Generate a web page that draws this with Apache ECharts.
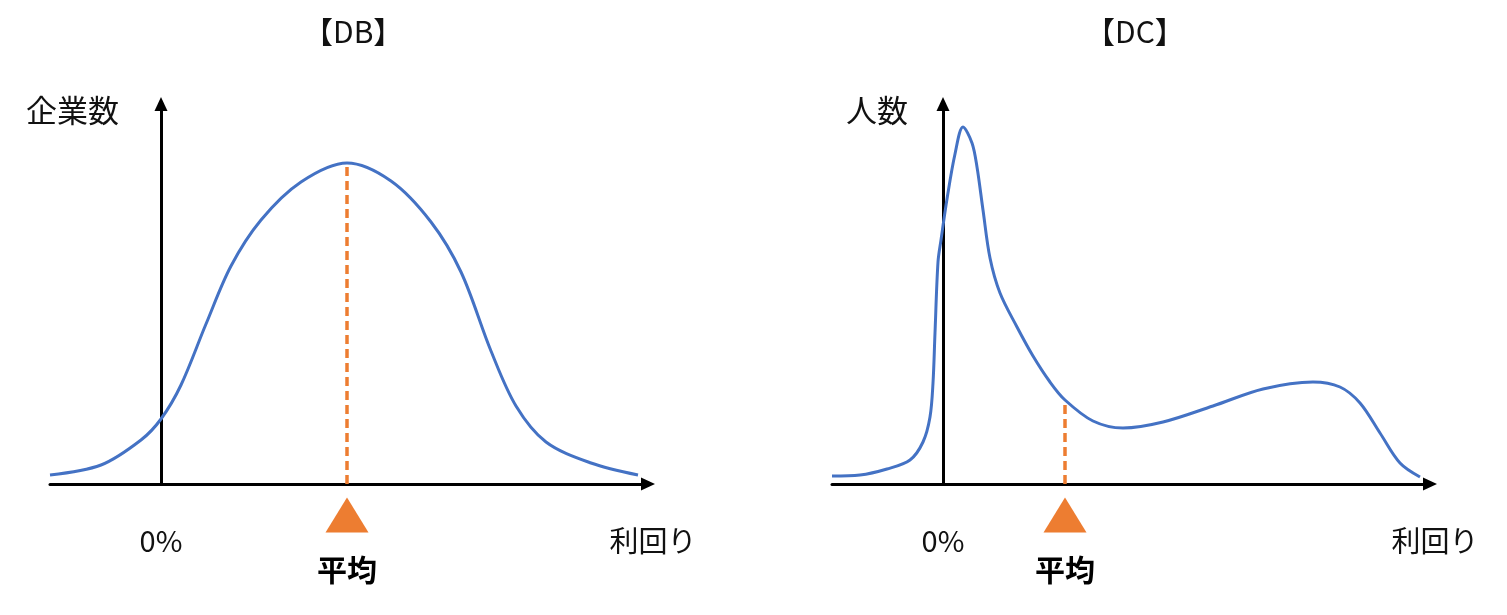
<!DOCTYPE html>
<html><head><meta charset="utf-8">
<script src="https://cdn.jsdelivr.net/npm/echarts@6/dist/echarts.min.js"></script>
<style>html,body{margin:0;padding:0;background:#fff}#c{width:1507px;height:615px}</style>
</head><body><div id="c"></div>
<script>
// ---- data (x: return, 0 = 0%; y: count, arbitrary units) ----
const titles = ['【DB】', '【DC】'];
const yNames = ['企業数', '人数'];
const xTickLabels = ['0%', '利回り'];
const xTickValues = [0, 487];
const meanLabel = '平均';

const dbCurve = [
  [-111, 9], [-60, 19], [-20, 44], [0, 65], [20, 99], [45, 160], [70, 218], [100, 264],
  [140, 302], [186, 321], [230, 303], [270, 262], [300, 212], [330, 133], [355, 78],
  [385, 42], [430, 21], [477, 9]
];
const dcCurve = [
  [-111, 8], [-83, 9], [-56, 15], [-33, 24], [-20, 42], [-13, 67], [-10, 101], [-8, 151],
  [-5, 222], [-2, 244], [4, 285], [12, 330], [20, 357], [29, 341], [34, 317], [40, 274],
  [47, 226], [57, 191], [74, 157], [90, 128], [107, 102], [122, 84], [150, 63], [180, 56],
  [220, 62], [270, 78], [320, 95], [370, 102], [397, 97], [417, 81], [437, 51], [457, 21],
  [477, 7]
];
const dbMean = 186, dbMeanHeight = 321;
const dcMean = 122, dcMeanHeight = 84;

// ---- chart ----
const FONT = '"Noto Sans CJK JP", "Noto Sans", sans-serif';
const BLUE = '#4472C4', ORANGE = '#ED7D31';
const grids = [
  { left: 50, top: 104, width: 598, height: 380 },
  { left: 832, top: 104, width: 598, height: 380 }
];
function xAx(i) {
  return {
    type: 'value', gridIndex: i, min: -111, max: 487,
    axisLine: { show: true, onZero: false, symbol: ['none', 'triangle'], symbolSize: [13, 14],
      lineStyle: { color: '#000', width: 3 } },
    axisTick: { show: false }, splitLine: { show: false },
    axisLabel: {
      show: true, customValues: xTickValues, showMaxLabel: true, showMinLabel: true, hideOverlap: false,
      margin: 42, fontSize: 29, color: '#111', fontFamily: FONT,
      formatter: v => {
        const k = xTickValues.indexOf(v);
        return k === 1 ? '{r|' + xTickLabels[1] + '}' : (xTickLabels[k] || '');
      },
      rich: { r: { fontSize: 29, color: '#111', fontFamily: FONT, padding: [0, 0, 0, 10] } }
    }
  };
}
function yAx(i) {
  return {
    type: 'value', gridIndex: i, min: 0, max: 380,
    axisLine: { show: true, onZero: true, symbol: ['none', 'triangle'], symbolSize: [13, 14],
      lineStyle: { color: '#000', width: 3 } },
    axisTick: { show: false }, splitLine: { show: false }, axisLabel: { show: false },
    name: yNames[i], nameLocation: 'end', nameGap: -6,
    nameTextStyle: { fontSize: 31, color: '#111', fontFamily: FONT, align: 'right',
      verticalAlign: 'middle', padding: [0, i === 0 ? 42 : 35, 0, 0] }
  };
}
function curve(i, data) {
  return { type: 'line', xAxisIndex: i, yAxisIndex: i, data, smooth: 0.33,
    showSymbol: false, lineStyle: { color: BLUE, width: 3 }, silent: true, z: 3 };
}
function meanLine(i, m, h) {
  return { type: 'line', xAxisIndex: i, yAxisIndex: i, data: [[m, 0], [m, h]], showSymbol: false,
    lineStyle: { color: ORANGE, width: 3.5, type: [9, 5] }, silent: true, z: 2 };
}
function meanMark(i, m) {
  return { type: 'scatter', xAxisIndex: i, yAxisIndex: i, data: [[m, 0]], clip: false,
    symbol: 'triangle', symbolSize: [43, 35], symbolOffset: [0, 31],
    itemStyle: { color: ORANGE, opacity: 1 }, silent: true,
    label: { show: true, position: 'bottom', distance: 22, formatter: meanLabel,
      fontSize: 30, fontWeight: 'bold', color: '#000', opacity: 1, fontFamily: FONT } };
}
const chart = echarts.init(document.getElementById('c'), null, { renderer: 'canvas' });
chart.setOption({
  animation: false,
  backgroundColor: '#fff',
  title: [
    { text: titles[0], left: 298, top: 12, textStyle: { fontSize: 30, fontWeight: 'normal', color: '#111', fontFamily: FONT } },
    { text: titles[1], left: 1080, top: 12, textStyle: { fontSize: 30, fontWeight: 'normal', color: '#111', fontFamily: FONT } }
  ],
  grid: grids,
  xAxis: [xAx(0), xAx(1)],
  yAxis: [yAx(0), yAx(1)],
  series: [
    curve(0, dbCurve), meanLine(0, dbMean, dbMeanHeight), meanMark(0, dbMean),
    curve(1, dcCurve), meanLine(1, dcMean, dcMeanHeight), meanMark(1, dcMean)
  ]
});
</script></body></html>
